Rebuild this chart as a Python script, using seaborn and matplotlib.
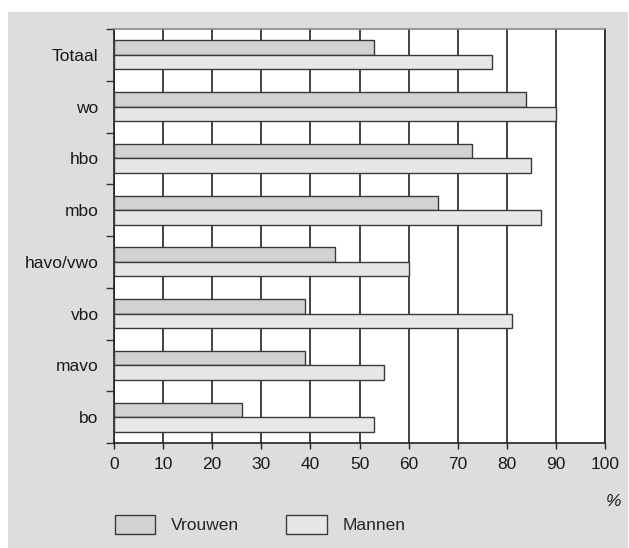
import numpy as np
import pandas as pd
import seaborn as sns
import matplotlib.pyplot as plt
from matplotlib.patches import Rectangle

# data
categories = ['Totaal', 'wo', 'hbo', 'mbo', 'havo/vwo', 'vbo', 'mavo', 'bo']
vrouwen = [53, 84, 73, 66, 45, 39, 39, 26]
mannen = [77, 90, 85, 87, 60, 81, 55, 53]
series = ['Vrouwen', 'Mannen']
x_ticks = [0, 10, 20, 30, 40, 50, 60, 70, 80, 90, 100]

df = pd.DataFrame({
    'opleiding': categories * 2,
    'waarde': vrouwen + mannen,
    'geslacht': ['Vrouwen'] * len(categories) + ['Mannen'] * len(categories),
})

sns.set_theme(style='white')
plt.rcParams['font.family'] = ['Liberation Sans', 'DejaVu Sans']

W, H = 629, 548
fig = plt.figure(figsize=(W / 100, H / 100), dpi=100, facecolor='white')

# grey panel behind the chart
fig.patches.append(Rectangle((8 / W, 0), 620 / W, 1 - 12 / H, transform=fig.transFigure,
                             facecolor='#dcdddf', edgecolor='none', zorder=-10))

ax = fig.add_axes([114 / W, 1 - 443 / H, (605 - 114) / W, (443 - 29) / H])
ax.set_zorder(1)
ax.set_facecolor('white')

palette = {'Vrouwen': '#d1d2d4', 'Mannen': '#e6e7e9'}
sns.barplot(data=df, x='waarde', y='opleiding', hue='geslacht', hue_order=series,
            order=categories, palette=palette, orient='h', width=0.56,
            edgecolor='#3a3a3a', linewidth=1.0, saturation=1, ax=ax, zorder=3)

ax.set_xlim(0, 100)
ax.set_ylim(len(categories) - 0.5, -0.5)
ax.set_xticks(x_ticks)
ax.set_xlabel('')
ax.set_ylabel('')

ax.grid(axis='x', color='#222222', linewidth=1.2)
ax.grid(axis='y', visible=False)
ax.set_axisbelow(True)

ax.set_yticks(np.arange(len(categories)))
ax.set_yticklabels(categories)
ax.set_yticks(np.arange(-0.5, len(categories)), minor=True)
ax.tick_params(axis='y', which='major', length=0, pad=11, labelsize=12.5, labelcolor='#1a1a1a')
ax.tick_params(axis='y', which='minor', length=6, width=1, color='#333333', left=True)
ax.tick_params(axis='x', which='major', length=4, width=1, color='#222222', bottom=True,
               pad=6, labelsize=12.5, labelcolor='#1a1a1a')

for side in ['left', 'bottom', 'right']:
    ax.spines[side].set_color('#222222')
    ax.spines[side].set_linewidth(1.2)
ax.spines['top'].set_color('#8a8a8a')
ax.spines['top'].set_linewidth(1.2)

fig.text(614 / W, 1 - 502 / H, '%', fontsize=12.5, style='italic', ha='center', va='center',
         color='#1a1a1a')

handles, labels = ax.get_legend_handles_labels()
ax.legend_.remove()
fig.legend(handles, labels, loc='upper left', bbox_to_anchor=(114.5 / W, 1 - 515 / H),
           ncol=2, frameon=False, fontsize=12.5, borderpad=0, borderaxespad=0,
           handlelength=2.36, handleheight=1.32, handletextpad=0.9, columnspacing=2.7)

fig.savefig('out.png', dpi=100, facecolor='white')
